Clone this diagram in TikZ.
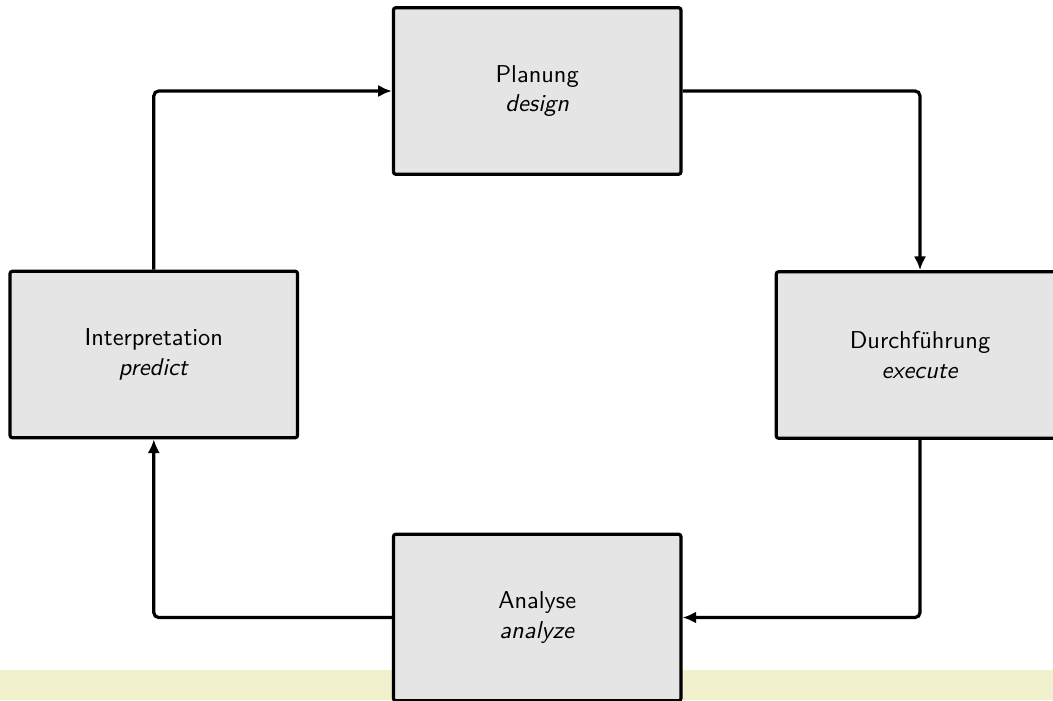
\documentclass[tikz,border=0pt]{standalone}
\usepackage{tikz}
\usetikzlibrary{arrows.meta}
\definecolor{bandyellow}{RGB}{241,241,205}
\tikzset{
	stage/.style={draw=black, line width=1.3pt, fill=black!10, rounded corners=1pt,
		minimum width=117.9pt, minimum height=68.3pt, inner sep=0pt,
		align=center, font=\sffamily},
	flow/.style={line width=1.3pt, rounded corners=2pt, -{Latex[length=5.6pt,width=5pt]}}
}
\begin{document}
\begin{tikzpicture}[x=0.41pt,y=0.41pt,yscale=-1,xscale=1]
		\useasboundingbox (0,0) rectangle (1053,700);
		\fill [bandyellow] (0,670) rectangle (1053,700);
		% the four stages
		\node [stage] (plan)   at (537.2,91)  {Planung\\\textit{design}};
		\node [stage] (exec)   at (920,355)   {Durchführung\\\textit{execute}};
		\node [stage] (anal)   at (537.2,617.5) {Analyse\\\textit{analyze}};
		\node [stage] (interp) at (153.8,354.5) {Interpretation\\\textit{predict}};
		% the cycle
		\draw [flow] (interp.north) |- (plan.west);
		\draw [flow] (plan.east) -| (exec.north);
		\draw [flow] (exec.south) |- (anal.east);
		\draw [flow] (anal.west) -| (interp.south);
\end{tikzpicture}
\end{document}
